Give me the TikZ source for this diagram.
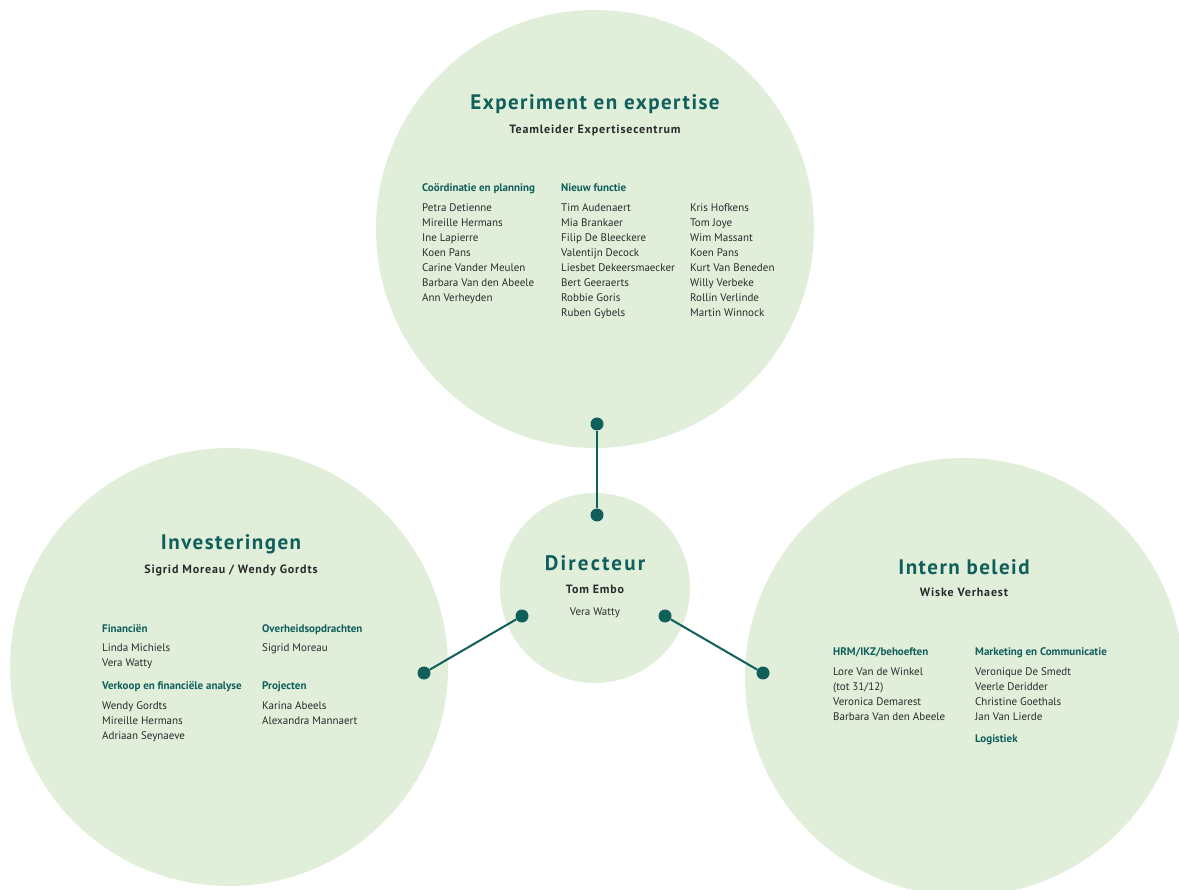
\documentclass[tikz,border=0pt]{standalone}
\usepackage{fontspec}
\setmainfont{PT Sans}
\newfontfamily\spacedfont[LetterSpace=7.0]{PT Sans}
\newfontfamily\widefont[LetterSpace=10.5]{PT Sans}
\definecolor{tealc}{HTML}{0F5F5B}
\definecolor{pale}{HTML}{E1EEDA}
\definecolor{ink}{HTML}{2B2B2B}
\tikzset{
  bubble/.style={circle, fill=pale, inner sep=0pt, minimum size=#1},
  dot/.style={circle, fill=tealc, inner sep=0pt, minimum size=13pt},
  conn/.style={draw=tealc, line width=2pt},
  ttl/.style={font=\spacedfont\bfseries\fontsize{21}{24}\selectfont, text=tealc, anchor=base, inner sep=0pt},
  sub/.style={font=\spacedfont\bfseries\fontsize{12}{14}\selectfont, text=ink, anchor=base, inner sep=0pt},
  hdr/.style={font=\bfseries\fontsize{11}{13}\selectfont, text=tealc, anchor=base west, inner sep=0pt},
  nm/.style={font=\fontsize{11}{13}\selectfont, text=ink, anchor=base west, inner sep=0pt},
}
\begin{document}
\begin{tikzpicture}[x=1pt,y=-1pt]
\clip (0,0) rectangle (1179,890);
% circles
\node[bubble=438pt] (top) at (595,229) {};
\node[bubble=438pt] (left) at (229,667) {};
\node[bubble=438pt] (right) at (964,677) {};
\node[bubble=190pt] (dir) at (595,588) {};
% connectors
\node[dot] (t1) at (597,424) {};
\node[dot] (t2) at (597,515) {};
\node[dot] (l1) at (522,616) {};
\node[dot] (l2) at (424,673) {};
\node[dot] (r1) at (665,616) {};
\node[dot] (r2) at (763,673) {};
\draw[conn] (t1) -- (t2);
\draw[conn] (l1) -- (l2);
\draw[conn] (r1) -- (r2);
% director
\node[ttl, font=\widefont\bfseries\fontsize{21}{24}\selectfont] (dirT) at (595,570) {Directeur};
\node[sub] (dirS) at (595,594) {Tom Embo};
\node[nm, anchor=base] (dirN) at (595,615) {Vera Watty};
% top circle
\node[ttl] (topT) at (595,110) {Experiment en expertise};
\node[sub] (topS) at (595,134) {Teamleider Expertisecentrum};
\node[hdr] (topH1) at (422,192) {Coördinatie en planning};
\node[hdr] (topH2) at (561,192) {Nieuw functie};
\foreach \n [count=\i] in {Petra Detienne,Mireille Hermans,Ine Lapierre,Koen Pans,Carine Vander Meulen,Barbara Van den Abeele,Ann Verheyden}
  \node[nm] (ta\i) at (422,212+15*\i-15) {\n};
\foreach \n [count=\i] in {Tim Audenaert,Mia Brankaer,Filip De Bleeckere,Valentijn Decock,Liesbet Dekeersmaecker,Bert Geeraerts,Robbie Goris,Ruben Gybels}
  \node[nm] (tb\i) at (561,212+15*\i-15) {\n};
\foreach \n [count=\i] in {Kris Hofkens,Tom Joye,Wim Massant,Koen Pans,Kurt Van Beneden,Willy Verbeke,Rollin Verlinde,Martin Winnock}
  \node[nm] (tc\i) at (690,212+15*\i-15) {\n};
% left circle
\node[ttl] (leftT) at (231,550) {Investeringen};
\node[sub] (leftS) at (231,573) {Sigrid Moreau / Wendy Gordts};
\node[hdr] (leftH1) at (102,632) {Financiën};
\node[hdr] (leftH2) at (262,632) {Overheidsopdrachten};
\node[hdr] (leftH3) at (102,689) {Verkoop en financiële analyse};
\node[hdr] (leftH4) at (262,689) {Projecten};
\foreach \n [count=\i] in {Linda Michiels,Vera Watty}
  \node[nm] (la\i) at (102,651+15*\i-15) {\n};
\foreach \n [count=\i] in {Wendy Gordts,Mireille Hermans,Adriaan Seynaeve}
  \node[nm] (lb\i) at (102,709+15*\i-15) {\n};
\node[nm] (lc1) at (262,651) {Sigrid Moreau};
\foreach \n [count=\i] in {Karina Abeels,Alexandra Mannaert}
  \node[nm] (ld\i) at (262,709+15*\i-15) {\n};
% right circle
\node[ttl] (rightT) at (964,574) {Intern beleid};
\node[sub] (rightS) at (964,597) {Wiske Verhaest};
\node[hdr] (rightH1) at (833,655) {HRM/IKZ/behoeften};
\node[hdr] (rightH2) at (975,655) {Marketing en Communicatie};
\node[hdr] (rightH3) at (975,742) {Logistiek};
\foreach \n [count=\i] in {Lore Van de Winkel,(tot 31/12),Veronica Demarest,Barbara Van den Abeele}
  \node[nm] (ra\i) at (833,675+15*\i-15) {\n};
\foreach \n [count=\i] in {Veronique De Smedt,Veerle Deridder,Christine Goethals,Jan Van Lierde}
  \node[nm] (rb\i) at (975,675+15*\i-15) {\n};
\end{tikzpicture}
\end{document}
